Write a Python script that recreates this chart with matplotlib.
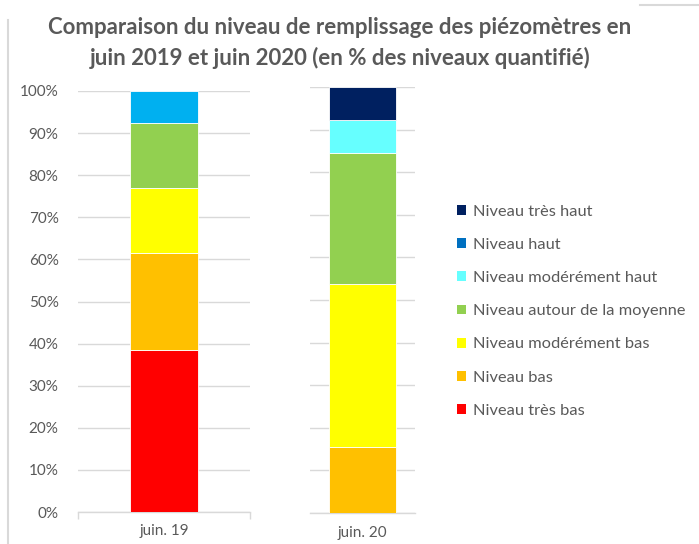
import matplotlib.pyplot as plt
from matplotlib.patches import Patch
from matplotlib.lines import Line2D
from matplotlib.ticker import PercentFormatter

plt.rcParams['font.family'] = ['Lato', 'DejaVu Sans']

# data (% of quantified levels)
categories = ['juin. 19', 'juin. 20']
levels = ['Niveau très bas', 'Niveau bas', 'Niveau modérément bas',
          'Niveau autour de la moyenne', 'Niveau modérément haut',
          'Niveau haut', 'Niveau très haut']
juin19 = [38.46, 23.08, 15.38, 15.38, 0.0, 7.69, 0.0]
juin20 = [0.0, 15.38, 38.46, 30.77, 7.69, 0.0, 7.69]

legend_colors = ['#FF0000', '#FFC000', '#FFFF00', '#92D050', '#66FFFF', '#0070C0', '#002060']
# the "haut" segment of juin 19 is drawn in a lighter blue in the source chart
bar_colors_19 = ['#FF0000', '#FFC000', '#FFFF00', '#92D050', '#66FFFF', '#00B0F0', '#002060']

TXT = '#595959'
GRID = '#D9D9D9'

W, H = 699, 544
fig = plt.figure(figsize=(W / 100, H / 100), dpi=100)

def px_axes(left, right, top, bottom):
    return fig.add_axes([left / W, 1 - bottom / H, (right - left) / W, (bottom - top) / H])

# the source image is a composite of two pieces, so draw one axes per bar
ax1 = px_axes(78, 250, 91, 512)
ax2 = px_axes(310, 415, 87, 513)

def draw_bar(ax, values, colors, label, half):
    bottom = 0
    for v, c in zip(values, colors):
        if v > 0:
            ax.bar(0, v, 0.4, bottom=bottom, color=c, edgecolor='white', linewidth=0.6, zorder=3)
        bottom += v
    ax.set_xlim(-half, half)
    ax.set_ylim(0, 100)
    ax.set_yticks(range(0, 101, 10))
    ax.grid(axis='y', color=GRID, linewidth=1, zorder=0)
    for s in ['top', 'right', 'left']:
        ax.spines[s].set_visible(False)
    ax.spines['bottom'].set_color(GRID)
    ax.spines['bottom'].set_linewidth(1)
    ax.set_xticks([0])
    ax.set_xticklabels([label], color=TXT, fontsize=11)
    ax.tick_params(axis='x', length=0, pad=9)
    ax.tick_params(axis='y', length=0)

draw_bar(ax1, juin19, bar_colors_19, categories[0], 0.5)
draw_bar(ax2, juin20, legend_colors, categories[1], 0.313)

ax1.yaxis.set_major_formatter(PercentFormatter(100, decimals=0))
ax1.tick_params(axis='y', labelcolor=TXT, labelsize=11, pad=14)
ax2.set_yticklabels([])
ax1.set_xticks([-0.5, 0.5], minor=True)
ax1.tick_params(axis='x', which='minor', length=5, color=GRID, width=1)

# legend (top entry = très haut)
handles = [Patch(facecolor=c, edgecolor='none') for c in legend_colors][::-1]
fig.legend(handles, levels[::-1], loc='upper left',
           bbox_to_anchor=(442 / W, 1 - 190 / H), frameon=False,
           fontsize=11.8, labelcolor=TXT, handlelength=0.55, handleheight=0.55,
           handletextpad=0.45, labelspacing=1.17)

fig.text(340 / W, 1 - 27 / H, 'Comparaison du niveau de remplissage des piézomètres en',
         ha='center', va='center', fontsize=16, fontweight='bold', color=TXT)
fig.text(340 / W, 1 - 58 / H, 'juin 2019 et juin 2020 (en % des niveaux quantifié)',
         ha='center', va='center', fontsize=16, fontweight='bold', color=TXT)

# frame pieces visible in the screenshot
fig.add_artist(Line2D([8 / W, 8 / W], [0, 1 - 20 / H], color=GRID, linewidth=1.5))
fig.add_artist(Line2D([640 / W, 1], [1 - 5 / H, 1 - 5 / H], color=GRID, linewidth=1.5))

fig.savefig('out.png', dpi=100)
